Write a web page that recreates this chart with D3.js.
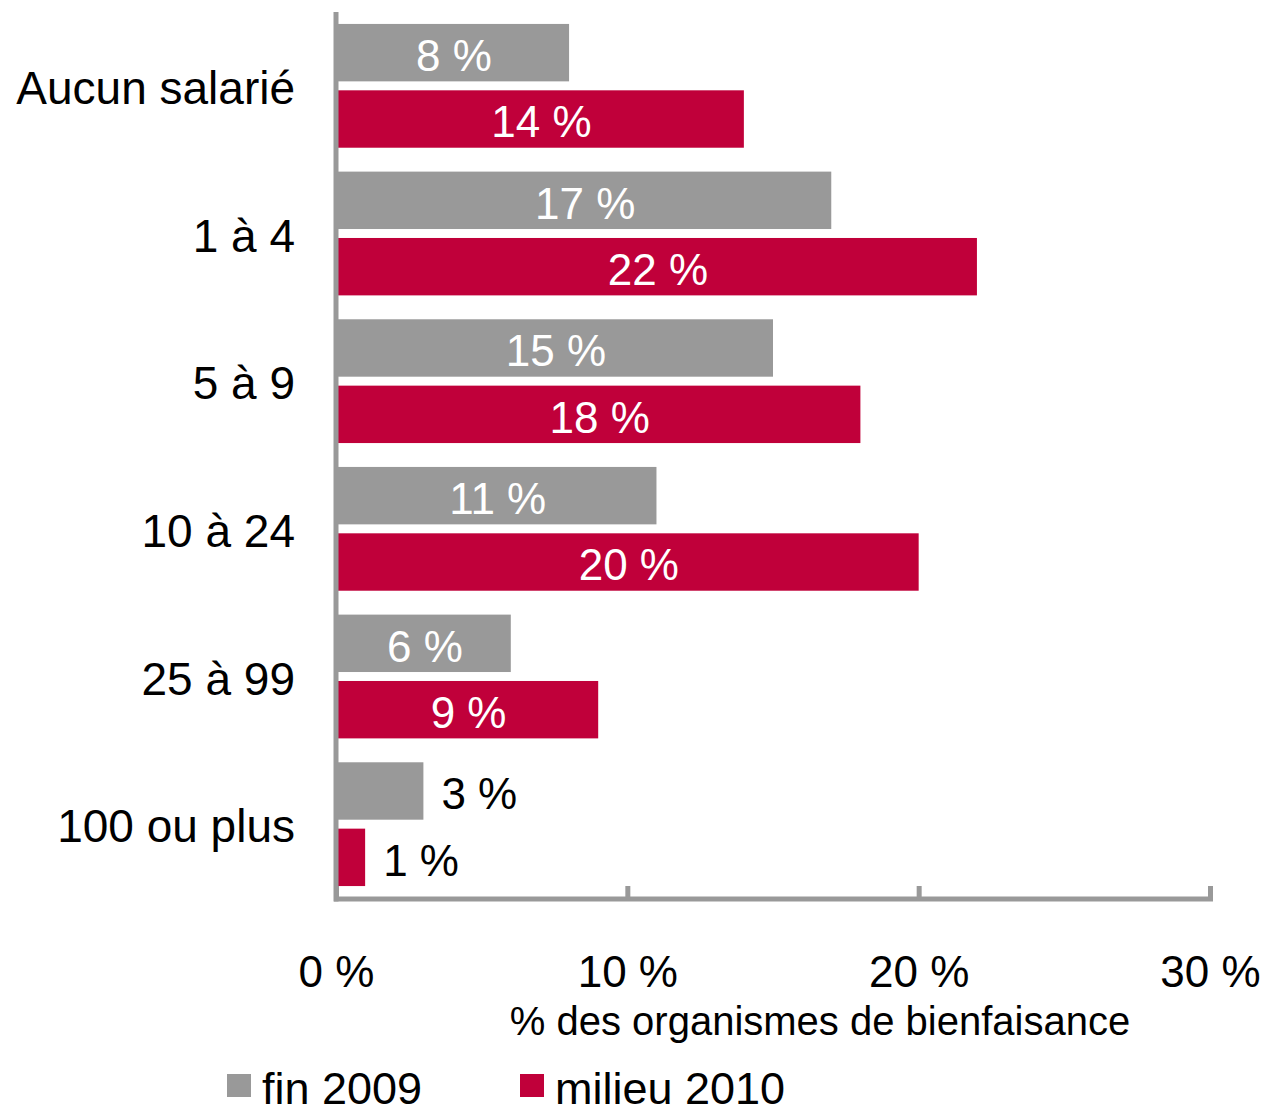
<!DOCTYPE html>
<html>
<head>
<meta charset="utf-8">
<script src="https://cdn.jsdelivr.net/npm/d3@7"></script>
<style>
  body { margin: 0; background: #fff; }
  svg { display: block; font-family: "Liberation Sans", Arial, sans-serif; }
</style>
</head>
<body>
<svg id="chart" width="1268" height="1114"></svg>
<script>
const categories = ["Aucun salarié", "1 à 4", "5 à 9", "10 à 24", "25 à 99", "100 ou plus"];
const seriesNames = ["fin 2009", "milieu 2010"];
const fin2009 = [8, 17, 15, 11, 6, 3];
const milieu2010 = [14, 22, 18, 20, 9, 1];
const tickValues = [0, 10, 20, 30];
const tickLabels = ["0 %", "10 %", "20 %", "30 %"];
const colors = ["#999999", "#c0003a"];

const svg = d3.select("#chart");
const x0 = 336, x1 = 1210, yTop = 12, yBottom = 898;

const x = d3.scaleLinear().domain([0, 30]).range([x0, x1]);
const y = d3.scaleBand().domain(categories).range([yTop, yBottom]).padding(0);
const ySub = d3.scaleBand().domain(seriesNames).range([0, y.bandwidth()])
  .paddingInner(0.135).paddingOuter(0.18);

const seriesValues = [fin2009, milieu2010];
const data = [];
categories.forEach((c, i) => {
  seriesNames.forEach((s, j) => {
    data.push({ cat: c, series: s, value: seriesValues[j][i], color: colors[j] });
  });
});

// bars
svg.append("g").selectAll("rect").data(data).join("rect")
  .attr("x", x(0))
  .attr("y", d => y(d.cat) + ySub(d.series))
  .attr("width", d => x(d.value) - x(0))
  .attr("height", ySub.bandwidth())
  .attr("fill", d => d.color);

// bar labels
svg.append("g").selectAll("text").data(data).join("text")
  .attr("x", d => d.value > 4 ? (x(0) + 3 + x(d.value)) / 2 : x(d.value) + 18)
  .attr("y", d => y(d.cat) + ySub(d.series) + ySub.bandwidth() / 2 + 3)
  .attr("dy", "0.35em")
  .attr("text-anchor", d => d.value > 4 ? "middle" : "start")
  .attr("font-size", 44)
  .attr("fill", d => d.value > 4 ? "#ffffff" : "#000000")
  .text(d => d.value + " %");

// category labels
svg.append("g").selectAll("text").data(categories).join("text")
  .attr("x", 295)
  .attr("y", d => y(d) + y.bandwidth() / 2 + 2)
  .attr("dy", "0.35em")
  .attr("text-anchor", "end")
  .attr("font-size", 46)
  .attr("fill", "#000")
  .text(d => d);

// x axis
const xAxis = d3.axisBottom(x)
  .tickValues(tickValues)
  .tickSizeInner(-13)
  .tickSizeOuter(0)
  .tickFormat((d, i) => tickLabels[i]);
const gx = svg.append("g").attr("transform", `translate(0,${yBottom + 1})`).call(xAxis);
gx.select(".domain").attr("stroke", "#999999").attr("stroke-width", 5)
  .attr("d", `M${x0 - 2},0H${x1 + 3}`);
gx.selectAll(".tick line").attr("stroke", "#999999").attr("stroke-width", 5);
gx.selectAll(".tick text")
  .attr("y", 88).attr("dy", null)
  .attr("font-size", 44).attr("fill", "#000")
  .attr("font-family", '"Liberation Sans", Arial, sans-serif');

// y axis line
svg.append("line")
  .attr("x1", x0).attr("x2", x0)
  .attr("y1", yTop).attr("y2", yBottom + 3.5)
  .attr("stroke", "#999999").attr("stroke-width", 5);

// axis title
svg.append("text")
  .attr("x", 820).attr("y", 1035)
  .attr("text-anchor", "middle")
  .attr("font-size", 40)
  .attr("fill", "#000")
  .text("% des organismes de bienfaisance");

// legend
const legendX = [227, 520];
const lg = svg.append("g").selectAll("g").data(seriesNames).join("g")
  .attr("transform", (d, i) => `translate(${legendX[i]},1074)`);
lg.append("rect").attr("width", 24).attr("height", 23).attr("fill", (d, i) => colors[i]);
lg.append("text").attr("x", 35).attr("y", 30)
  .attr("font-size", 45).attr("fill", "#000").text(d => d);
</script>
</body>
</html>
